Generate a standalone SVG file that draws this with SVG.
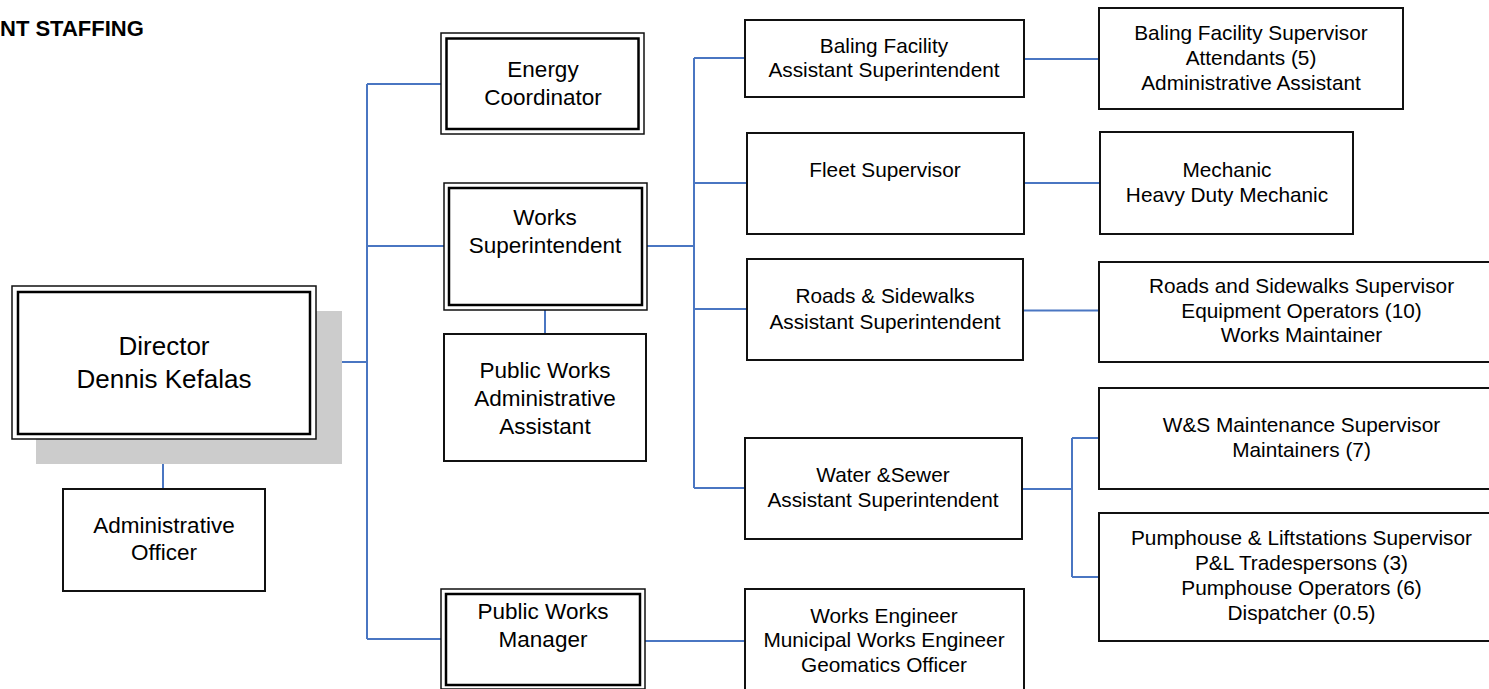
<svg xmlns="http://www.w3.org/2000/svg" width="1489" height="689" viewBox="0 0 1489 689">
<style>
.box{fill:#fff;stroke:#111;stroke-width:2}
.outer{fill:#fff;stroke:#111;stroke-width:1.5}
.inner{fill:none;stroke:#000;stroke-width:2.5}
.conn{fill:none;stroke:#4a76c2;stroke-width:2}
text{font-family:"Liberation Sans",Arial,sans-serif;fill:#000;text-anchor:middle}
.s{font-size:20.8px}
.m{font-size:22.5px}
.l{font-size:26px}
.t{font-size:22px;font-weight:bold;text-anchor:start}
</style>
<rect width="1489" height="689" fill="#fff"/>
<text class="t" x="0" y="36">NT STAFFING</text>
<g id="connectors">
<path class="conn" d="M316 362H367M367 84V639M367 84H441M367 246H444M367 639H441"/>
<path class="conn" d="M163 439V489M545 310V334"/>
<path class="conn" d="M647 246H694M694 58V488M694 58H745M694 183H747M694 309H747M694 488H744"/>
<path class="conn" d="M645 641H745"/>
<path class="conn" d="M1024 59H1099M1023 183H1100M1023 310.5H1099"/>
<path class="conn" d="M1022 489H1072M1072 438V577M1072 438H1099M1072 577H1099"/>
</g>
<g id="director">
<rect x="36" y="311" width="306" height="153" fill="#cccccc"/>
<rect class="outer" x="12" y="286" width="304" height="153"/>
<rect class="inner" x="18" y="292" width="292" height="142"/>
<text class="l" x="164" y="355">Director</text>
<text class="l" x="164" y="388">Dennis Kefalas</text>
</g>
<g id="admin-officer">
<rect class="box" x="63" y="489" width="202" height="102"/>
<text class="m" x="164" y="533">Administrative</text>
<text class="m" x="164" y="560">Officer</text>
</g>
<g id="energy-coordinator">
<rect class="outer" x="441" y="33" width="203" height="101"/>
<rect class="inner" x="446.5" y="38.5" width="192" height="90.5"/>
<text class="m" x="543" y="77">Energy</text>
<text class="m" x="543" y="105">Coordinator</text>
</g>
<g id="works-superintendent">
<rect class="outer" x="444" y="183" width="203" height="127"/>
<rect class="inner" x="449" y="188" width="193" height="117"/>
<text class="m" x="545" y="225">Works</text>
<text class="m" x="545" y="253">Superintendent</text>
</g>
<g id="pw-admin-assistant">
<rect class="box" x="444" y="334" width="202" height="127"/>
<text class="m" x="545" y="378">Public Works</text>
<text class="m" x="545" y="406">Administrative</text>
<text class="m" x="545" y="434">Assistant</text>
</g>
<g id="pw-manager">
<rect class="outer" x="441" y="589" width="204" height="100"/>
<rect class="inner" x="446" y="594" width="194" height="91"/>
<text class="m" x="543" y="619">Public Works</text>
<text class="m" x="543" y="647">Manager</text>
</g>
<g id="baling-asst">
<rect class="box" x="745" y="20" width="279" height="77"/>
<text class="s" x="884" y="53">Baling Facility</text>
<text class="s" x="884" y="77">Assistant Superintendent</text>
</g>
<g id="fleet-supervisor">
<rect class="box" x="747" y="133" width="277" height="101"/>
<text class="s" x="885" y="177">Fleet Supervisor</text>
</g>
<g id="roads-asst">
<rect class="box" x="747" y="259" width="276" height="101"/>
<text class="s" x="885" y="303">Roads &amp; Sidewalks</text>
<text class="s" x="885" y="329">Assistant Superintendent</text>
</g>
<g id="water-asst">
<rect class="box" x="745" y="438" width="277" height="101"/>
<text class="s" x="883" y="482">Water &amp;Sewer</text>
<text class="s" x="883" y="507">Assistant Superintendent</text>
</g>
<g id="works-engineer">
<rect class="box" x="745" y="589" width="279" height="102"/>
<text class="s" x="884" y="623">Works Engineer</text>
<text class="s" x="884" y="647">Municipal Works Engineer</text>
<text class="s" x="884" y="672">Geomatics Officer</text>
</g>
<g id="baling-supervisor">
<rect class="box" x="1099" y="8" width="304" height="101"/>
<text class="s" x="1251" y="40">Baling Facility Supervisor</text>
<text class="s" x="1251" y="65">Attendants (5)</text>
<text class="s" x="1251" y="90">Administrative Assistant</text>
</g>
<g id="mechanic">
<rect class="box" x="1100" y="132" width="253" height="102"/>
<text class="s" x="1227" y="177">Mechanic</text>
<text class="s" x="1227" y="202">Heavy Duty Mechanic</text>
</g>
<g id="roads-supervisor">
<rect class="box" x="1099" y="262" width="406" height="100"/>
<text class="s" x="1301.5" y="293">Roads and Sidewalks Supervisor</text>
<text class="s" x="1301.5" y="318">Equipment Operators (10)</text>
<text class="s" x="1301.5" y="342">Works Maintainer</text>
</g>
<g id="ws-maintenance">
<rect class="box" x="1099" y="388" width="406" height="101"/>
<text class="s" x="1301.5" y="432">W&amp;S Maintenance Supervisor</text>
<text class="s" x="1301.5" y="457">Maintainers (7)</text>
</g>
<g id="pumphouse">
<rect class="box" x="1099" y="513" width="406" height="128"/>
<text class="s" x="1301.5" y="545">Pumphouse &amp; Liftstations Supervisor</text>
<text class="s" x="1301.5" y="570">P&amp;L Tradespersons (3)</text>
<text class="s" x="1301.5" y="595">Pumphouse Operators (6)</text>
<text class="s" x="1301.5" y="620">Dispatcher (0.5)</text>
</g>
</svg>
